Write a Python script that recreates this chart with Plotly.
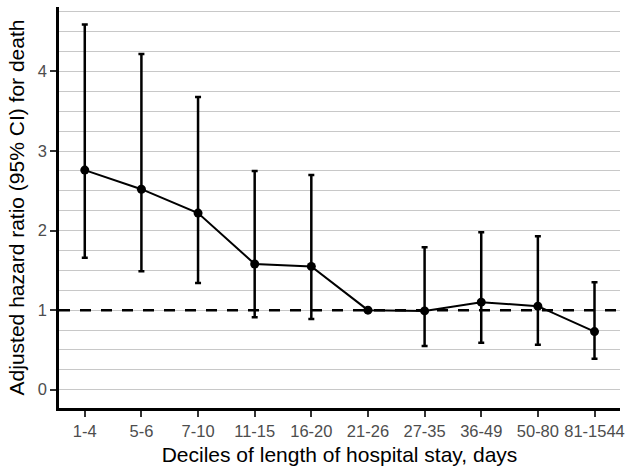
import plotly.graph_objects as go

categories = ["1-4", "5-6", "7-10", "11-15", "16-20", "21-26", "27-35", "36-49", "50-80", "81-1544"]
hr = [2.76, 2.52, 2.22, 1.58, 1.55, 1.00, 0.99, 1.10, 1.05, 0.73]
upper = [4.59, 4.22, 3.68, 2.75, 2.70, 1.00, 1.79, 1.98, 1.93, 1.35]
lower = [1.66, 1.49, 1.34, 0.91, 0.89, 1.00, 0.55, 0.59, 0.565, 0.39]
y_ticks = [0, 1, 2, 3, 4]

err_plus = [u - h for u, h in zip(upper, hr)]
err_minus = [h - l for h, l in zip(hr, lower)]
xs = list(range(len(categories)))

fig = go.Figure()
fig.add_trace(go.Scatter(
    x=xs, y=hr, mode="lines+markers",
    line=dict(color="black", width=2),
    marker=dict(color="black", size=9),
    error_y=dict(type="data", symmetric=False, array=err_plus, arrayminus=err_minus,
                 color="black", thickness=2.5, width=3),
    showlegend=False,
    cliponaxis=False,
))
fig.add_shape(type="line", xref="paper", yref="y", x0=0, x1=1, y0=1, y1=1,
              line=dict(color="black", width=2.5, dash="11px,10px"), layer="above")

fig.update_layout(
    width=630, height=470,
    margin=dict(l=59, r=5, t=7, b=62),
    plot_bgcolor="white", paper_bgcolor="white",
    font=dict(family="Liberation Sans, Arial, sans-serif"),
)
fig.update_xaxes(
    range=[-0.455, 9.45], tickvals=xs, ticktext=categories,
    showgrid=False, zeroline=False,
    showline=True, linecolor="black", linewidth=2.5,
    ticks="outside", ticklen=6, tickwidth=1.5, tickcolor="#333333",
    tickfont=dict(size=16.5, color="#4d4d4d"),
    title=dict(text="Deciles of length of hospital stay, days", font=dict(size=21, color="black"), standoff=9),
)
fig.update_yaxes(
    range=[-0.23, 4.81], tickvals=y_ticks,
    showgrid=True, gridcolor="#c8c8c8", gridwidth=1,
    minor=dict(dtick=0.25, tick0=0, showgrid=True, gridcolor="#c8c8c8", gridwidth=1),
    zeroline=False,
    showline=True, linecolor="black", linewidth=2.5,
    ticks="outside", ticklen=6, tickwidth=1.5, tickcolor="#333333",
    tickfont=dict(size=16.5, color="#4d4d4d"),
    title=dict(text="Adjusted hazard ratio (95% CI) for death", font=dict(size=21, color="black"), standoff=8),
)
fig.write_html("out.html", config={"displayModeBar": False},
               post_script="document.body.style.margin='0';")
